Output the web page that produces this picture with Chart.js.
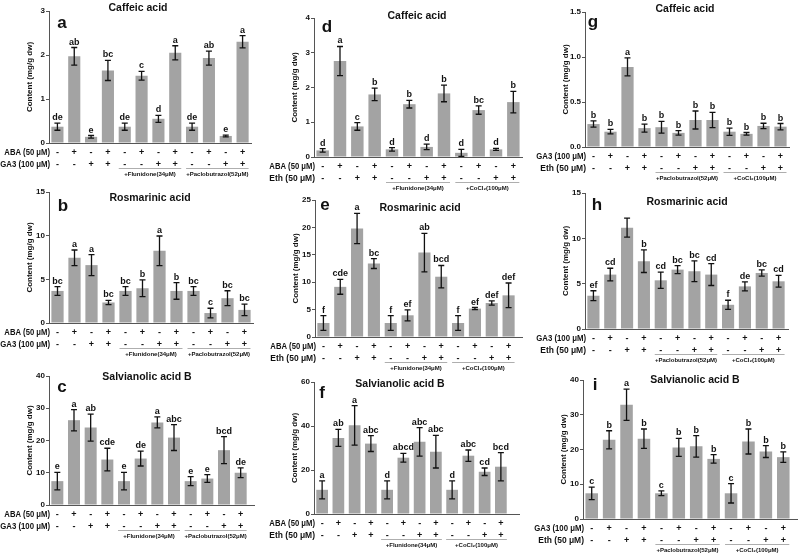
<!DOCTYPE html>
<html>
<head>
<meta charset="utf-8">
<script src="https://cdn.jsdelivr.net/npm/chart.js@4.4.1/dist/chart.umd.min.js"></script>
<style>
  body { margin: 0; background: #fff; }
  #wrap { position: relative; width: 799px; height: 558px; overflow: hidden; }
  #wrap canvas { position: absolute; }
</style>
</head>
<body>
<div id="wrap"></div>
<script>
// treatments, one per bar
const treatments = ['T1','T2','T3','T4','T5','T6','T7','T8','T9','T10','T11','T12'];
// sign rows shown under the x axis
const altSigns  = ['-','+','-','+','-','+','-','+','-','+','-','+'];
const pairSigns = ['-','-','+','+','-','-','+','+','-','-','+','+'];

// a: caffeic acid, ABA / GA3
const caffeicAbaGa3    = [0.37, 1.97, 0.14, 1.65, 0.37, 1.53, 0.55, 2.05, 0.37, 1.93, 0.16, 2.30];
const caffeicAbaGa3Err = [0.08, 0.20, 0.03, 0.23, 0.08, 0.10, 0.08, 0.16, 0.08, 0.16, 0.02, 0.14];
const caffeicAbaGa3Sig = ['de','ab','e','bc','de','c','d','a','de','ab','e','a'];

// b: rosmarinic acid, ABA / GA3
const rosAbaGa3    = [3.67, 7.46, 6.63, 2.35, 3.67, 3.98, 8.26, 3.67, 3.67, 1.14, 2.84, 1.50];
const rosAbaGa3Err = [0.50, 0.90, 1.20, 0.25, 0.50, 0.95, 1.70, 0.95, 0.50, 0.55, 0.85, 0.65];
const rosAbaGa3Sig = ['bc','a','a','bc','bc','b','a','b','bc','c','bc','bc'];

// c: salvianolic acid B, ABA / GA3
const salAbaGa3    = [7.4, 26.3, 24.0, 14.1, 7.4, 14.4, 25.6, 20.9, 7.4, 8.2, 17.0, 10.0];
const salAbaGa3Err = [2.7, 3.3, 4.2, 3.5, 2.7, 2.3, 1.7, 4.0, 1.4, 1.2, 4.2, 1.5];
const salAbaGa3Sig = ['e','a','ab','cde','e','de','a','abc','e','e','bcd','de'];

// d: caffeic acid, ABA / Eth
const caffeicAbaEth    = [0.19, 2.76, 0.88, 1.80, 0.22, 1.52, 0.29, 1.83, 0.12, 1.35, 0.22, 1.58];
const caffeicAbaEthErr = [0.05, 0.42, 0.11, 0.18, 0.05, 0.11, 0.08, 0.24, 0.10, 0.12, 0.03, 0.31];
const caffeicAbaEthSig = ['d','a','c','b','d','b','d','b','d','bc','d','b'];

// e: rosmarinic acid, ABA / Eth
const rosAbaEth    = [2.56, 9.15, 19.8, 13.4, 2.56, 3.96, 15.4, 11.0, 2.56, 5.18, 6.2, 7.6];
const rosAbaEthErr = [1.35, 1.35, 2.75, 0.90, 1.35, 1.00, 3.50, 2.05, 1.35, 0.20, 0.4, 2.25];
const rosAbaEthSig = ['f','cde','a','bc','f','ef','ab','bcd','f','ef','def','def'];

// f: salvianolic acid B, ABA / Eth
const salAbaEth    = [11.0, 34.6, 40.3, 32.0, 11.0, 25.6, 32.8, 28.3, 11.0, 26.5, 19.2, 21.5];
const salAbaEthErr = [4.1, 3.9, 9.0, 3.6, 4.1, 2.0, 6.5, 7.4, 4.1, 2.6, 1.7, 6.4];
const salAbaEthSig = ['a','ab','a','abc','d','abcd','abc','abc','d','abc','cd','bcd'];

// g: caffeic acid, GA3 / Eth
const caffeicGa3Eth    = [0.255, 0.17, 0.89, 0.21, 0.22, 0.157, 0.30, 0.30, 0.17, 0.146, 0.234, 0.226];
const caffeicGa3EthErr = [0.035, 0.025, 0.10, 0.045, 0.065, 0.025, 0.10, 0.085, 0.04, 0.015, 0.03, 0.035];
const caffeicGa3EthSig = ['b','b','a','b','b','b','b','b','b','b','b','b'];

// h: rosmarinic acid, GA3 / Eth
const rosGa3Eth    = [3.67, 6.0, 11.18, 7.48, 5.37, 6.55, 6.37, 6.0, 2.67, 4.7, 6.18, 5.26];
const rosGa3EthErr = [0.55, 0.7, 1.05, 1.25, 0.90, 0.45, 1.15, 1.2, 0.50, 0.5, 0.35, 0.65];
const rosGa3EthSig = ['ef','cd','','b','cd','bc','bc','cd','f','de','bc','cd'];

// i: salvianolic acid B, GA3 / Eth
const salGa3Eth    = [7.4, 22.8, 32.9, 23.1, 7.4, 20.6, 20.9, 17.3, 7.4, 22.3, 19.4, 17.8];
const salGa3EthErr = [1.8, 2.6, 4.5, 2.8, 0.7, 2.6, 3.1, 1.2, 2.8, 3.6, 1.7, 1.5];
const salGa3EthSig = ['c','b','a','b','c','b','b','b','c','b','b','b'];

const FONT = '"Liberation Sans", Arial, sans-serif';
const abaGa3Rows = [['ABA (50 μM)', altSigns], ['GA3 (100 μM)', pairSigns]];
const abaEthRows = [['ABA (50 μM)', altSigns], ['Eth (50 μM)', pairSigns]];
const ga3EthRows = [['GA3 (100 μM)', altSigns], ['Eth (50 μM)', pairSigns]];
const flPac = ['+Flunidone(34μM)', '+Paclobutrazol(52μM)'];
const flCo  = ['+Flunidone(34μM)', '+CoCl₂(100μM)'];
const pacCo = ['+Paclobutrazol(52μM)', '+CoCl₂(100μM)'];

// box = canvas [left, top, w, h]; plot = [x0, x1, yTop, yBottom]; axisEnd = where baseline stops
const panels = [
  { letter:'a', title:'Caffeic acid', box:[0,0,265,195], plot:[49,251,11,143], axisEnd:251, max:3, step:1,
    values:caffeicAbaGa3, errs:caffeicAbaGa3Err, sig:caffeicAbaGa3Sig, rows:abaGa3Rows, groups:flPac,
    tdx:89, tdy:-3, ldx:13, ldy:12 },
  { letter:'b', title:'Rosmarinic acid', box:[0,183,265,192], plot:[49,253,192,323], axisEnd:253, max:15, step:5,
    values:rosAbaGa3, errs:rosAbaGa3Err, sig:rosAbaGa3Sig, rows:abaGa3Rows, groups:flPac,
    tdx:101, tdy:6, ldx:14, ldy:14 },
  { letter:'c', title:'Salvianolic acid B', box:[0,366,265,192], plot:[49,249,376,505], axisEnd:255, max:40, step:10,
    values:salAbaGa3, errs:salAbaGa3Err, sig:salAbaGa3Sig, rows:abaGa3Rows, groups:flPac,
    tdx:98, tdy:1, ldx:13, ldy:11 },
  { letter:'d', title:'Caffeic acid', box:[262,0,273,195], plot:[314,522,18,157], axisEnd:523, max:4, step:1,
    values:caffeicAbaEth, errs:caffeicAbaEthErr, sig:caffeicAbaEthSig, rows:abaEthRows, groups:flCo,
    tdx:103, tdy:-2, ldx:13, ldy:9 },
  { letter:'e', title:'Rosmarinic acid', box:[262,183,273,192], plot:[315,517,200,337], axisEnd:523, max:25, step:5,
    values:rosAbaEth, errs:rosAbaEthErr, sig:rosAbaEthSig, rows:abaEthRows, groups:flCo,
    tdx:105, tdy:8, ldx:10, ldy:5 },
  { letter:'f', title:'Salvianolic acid B', box:[262,366,273,192], plot:[314,509,382,514], axisEnd:520, max:60, step:20,
    values:salAbaEth, errs:salAbaEthErr, sig:salAbaEthSig, rows:abaEthRows, groups:flCo,
    tdx:86, tdy:2, ldx:8, ldy:11 },
  { letter:'g', title:'Caffeic acid', box:[533,0,266,195], plot:[585,789,12,147], axisEnd:789, max:1.5, step:0.5, dec:1,
    values:caffeicGa3Eth, errs:caffeicGa3EthErr, sig:caffeicGa3EthSig, rows:ga3EthRows, groups:pacCo,
    tdx:100, tdy:-3, ldx:8, ldy:10 },
  { letter:'h', title:'Rosmarinic acid', box:[533,183,266,192], plot:[585,787,193,329], axisEnd:789, max:15, step:5,
    values:rosGa3Eth, errs:rosGa3EthErr, sig:rosGa3EthSig, rows:ga3EthRows, groups:pacCo,
    tdx:102, tdy:9, ldx:12, ldy:12 },
  { letter:'i', title:'Salvianolic acid B', box:[533,366,266,192], plot:[583,792,380,519], axisEnd:798, max:40, step:10,
    values:salGa3Eth, errs:salGa3EthErr, sig:salGa3EthSig, rows:ga3EthRows, groups:pacCo,
    tdx:112, tdy:0, ldx:12, ldy:5 }
];

function makeDecor(p) {
  return {
    id: 'decor',
    afterDatasetsDraw(chart) {
      const { ctx, chartArea: a, scales: { x, y } } = chart;
      const left = p.box[0];
      ctx.save();
      // baseline continues past the last bar
      ctx.strokeStyle = '#555';
      ctx.lineWidth = 1;
      ctx.beginPath();
      ctx.moveTo(a.right - 1, a.bottom + 0.5);
      ctx.lineTo(p.axisEnd - left, a.bottom + 0.5);
      ctx.stroke();

      ctx.strokeStyle = '#111';
      ctx.fillStyle = '#111';
      ctx.lineWidth = 1.3;
      ctx.textAlign = 'center';
      // error bars + letters
      p.values.forEach((v, i) => {
        const cx = x.getPixelForValue(i);
        const yt = y.getPixelForValue(v + p.errs[i]);
        const yb = y.getPixelForValue(Math.max(0, v - p.errs[i]));
        ctx.beginPath();
        ctx.moveTo(cx, yt); ctx.lineTo(cx, yb);
        ctx.moveTo(cx - 3, yt); ctx.lineTo(cx + 3, yt);
        ctx.moveTo(cx - 3, yb); ctx.lineTo(cx + 3, yb);
        ctx.stroke();
        ctx.font = 'bold 9px ' + FONT;
        ctx.textBaseline = 'alphabetic';
        ctx.fillText(p.sig[i], cx, yt - 3);
      });
      // sign table
      ctx.textBaseline = 'middle';
      p.rows.forEach((row, r) => {
        const ry = a.bottom + (r === 0 ? 10 : 22);
        ctx.font = 'bold 8.5px ' + FONT;
        ctx.textAlign = 'right';
        ctx.fillText(row[0], a.left + 1, ry, row[0].length * 4.15);
        ctx.textAlign = 'center';
        ctx.font = 'bold 9px ' + FONT;
        row[1].forEach((s, i) => ctx.fillText(s, x.getPixelForValue(i), ry));
      });
      // treatment groups
      ctx.font = 'bold 6px ' + FONT;
      ctx.strokeStyle = '#999';
      ctx.lineWidth = 0.8;
      p.groups.forEach((g, k) => {
        const i0 = 4 + k * 4, i1 = i0 + 3;
        const xa = x.getPixelForValue(i0) - 6, xb = x.getPixelForValue(i1) + 6;
        ctx.beginPath();
        ctx.moveTo(xa, a.bottom + 25.5); ctx.lineTo(xb, a.bottom + 25.5);
        ctx.stroke();
        ctx.fillText(g, (xa + xb) / 2, a.bottom + 31);
      });
      // titles
      ctx.font = 'bold 10.5px ' + FONT;
      ctx.fillText(p.title, a.left + p.tdx, a.top + p.tdy);
      ctx.font = 'bold 17px ' + FONT;
      ctx.fillText(p.letter, a.left + p.ldx, a.top + p.ldy);
      ctx.translate(a.left - 19, (a.top + a.bottom) / 2);
      ctx.rotate(-Math.PI / 2);
      ctx.font = 'bold 8px ' + FONT;
      ctx.fillText('Content (mg/g dw)', 0, 0);
      ctx.restore();
    }
  };
}

const wrap = document.getElementById('wrap');
panels.forEach(p => {
  const [bl, bt, bw, bh] = p.box;
  const [x0, x1, yTop, yBottom] = p.plot;
  const canvas = document.createElement('canvas');
  canvas.width = bw; canvas.height = bh;
  canvas.style.left = bl + 'px'; canvas.style.top = bt + 'px';
  wrap.appendChild(canvas);
  new Chart(canvas.getContext('2d'), {
    type: 'bar',
    data: {
      labels: treatments,
      datasets: [{
        data: p.values,
        backgroundColor: '#a3a3a3',
        barPercentage: 0.72,
        categoryPercentage: 1
      }]
    },
    options: {
      responsive: false,
      animation: false,
      devicePixelRatio: 1,
      layout: { padding: { top: yTop - bt, left: 0, right: bl + bw - x1, bottom: 0 } },
      plugins: { legend: { display: false }, tooltip: { enabled: false } },
      scales: {
        x: {
          grid: { display: false },
          border: { color: '#555', width: 1 },
          ticks: { display: false },
          afterFit: s => { s.height = bt + bh - yBottom; }
        },
        y: {
          min: 0, max: p.max,
          grid: { drawOnChartArea: false, tickLength: 3, color: '#555' },
          border: { color: '#555', width: 1 },
          ticks: {
            stepSize: p.step, padding: 1, color: '#111',
            font: { family: FONT, size: 8, weight: 'bold' },
            callback: v => p.dec ? v.toFixed(p.dec) : v
          },
          afterFit: s => { s.width = x0 - bl; }
        }
      }
    },
    plugins: [makeDecor(p)]
  });
});
</script>
</body>
</html>
